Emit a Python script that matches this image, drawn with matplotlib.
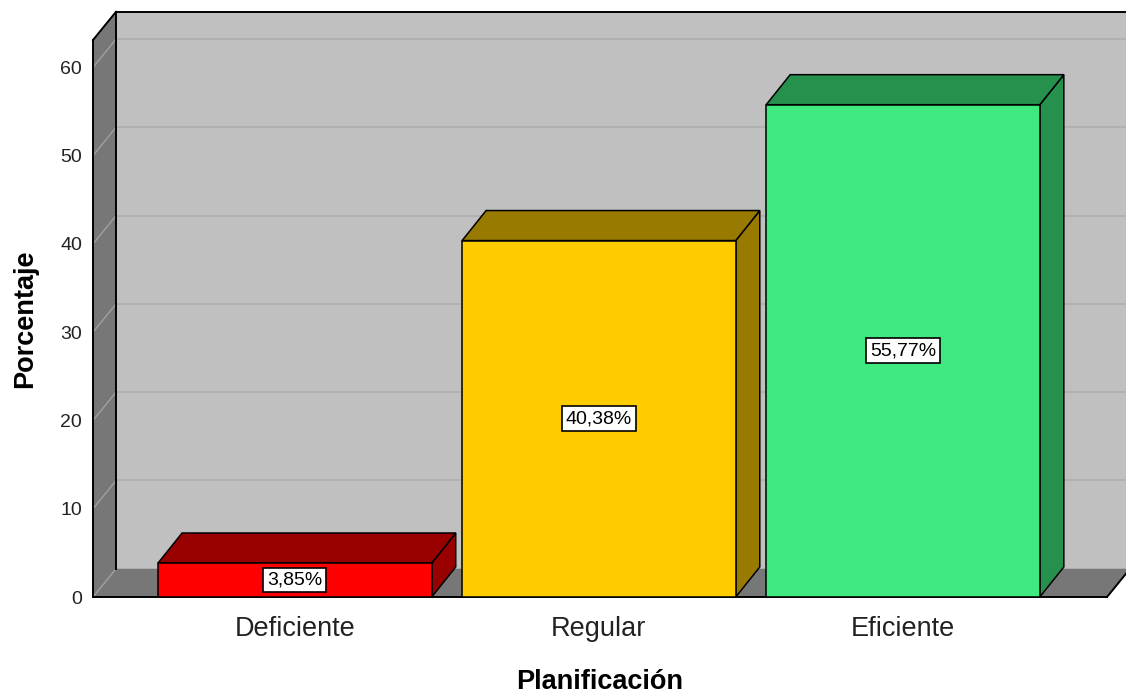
import matplotlib
matplotlib.use("Agg")
import matplotlib.pyplot as plt
from matplotlib.patches import Polygon

# datos
categorias = ["Deficiente", "Regular", "Eficiente"]
porcentajes = [3.85, 40.38, 55.77]
etiquetas = ["3,85%", "40,38%", "55,77%"]
ticks_y = [0, 10, 20, 30, 40, 50, 60]

colores_frente = ["#FF0000", "#FFCC00", "#40E880"]
colores_lado = ["#990000", "#997A00", "#26904D"]

plt.rcParams['font.family'] = ['Liberation Sans', 'DejaVu Sans']

# geometria del "3D"
X_MIN, X_MAX = -0.664, 2.671
Y_TOP = 63.1
WALL_DX, WALL_DY = 0.0757, 3.2
BAR_DX, BAR_DY = 0.079, 3.4
ANCHO = 0.9

fig = plt.figure(figsize=(11.26, 6.95), dpi=100)
ax = fig.add_axes([93 / 1126, 98 / 695, (1107 - 93) / 1126, (597 - 40) / 695])
ax.set_xlim(X_MIN, X_MAX)
ax.set_ylim(0, Y_TOP)
ax.set_facecolor("none")
for s in ax.spines.values():
    s.set_visible(False)


def poly(pts, fc, ec="none", lw=0.0, z=1):
    ax.add_patch(Polygon(pts, closed=True, facecolor=fc, edgecolor=ec,
                         linewidth=lw, clip_on=False, zorder=z, joinstyle="miter"))


# pared del fondo
poly([(X_MIN + WALL_DX, WALL_DY), (X_MAX + WALL_DX, WALL_DY),
      (X_MAX + WALL_DX, Y_TOP + WALL_DY), (X_MIN + WALL_DX, Y_TOP + WALL_DY)], "#C0C0C0", z=1)
# pared izquierda
poly([(X_MIN, 0), (X_MIN + WALL_DX, WALL_DY),
      (X_MIN + WALL_DX, Y_TOP + WALL_DY), (X_MIN, Y_TOP)], "#777777", z=1)
# piso
poly([(X_MIN, 0), (X_MAX, 0), (X_MAX + WALL_DX, WALL_DY), (X_MIN + WALL_DX, WALL_DY)],
     "#777777", z=1)

# lineas de cuadricula
for v in ticks_y:
    if v > 0:
        ax.plot([X_MIN + WALL_DX, X_MAX + WALL_DX], [v + WALL_DY, v + WALL_DY],
                color="#B0B0B0", lw=1.3, clip_on=False, zorder=2)
    ax.plot([X_MIN, X_MIN + WALL_DX], [v, v + WALL_DY],
            color="#A0A0A0", lw=1.0, clip_on=False, zorder=2)

# bordes negros
bordes = dict(color="black", lw=1.4, clip_on=False, zorder=3, solid_capstyle="projecting")
ax.plot([X_MIN, X_MIN], [0, Y_TOP], **bordes)
ax.plot([X_MIN, X_MIN + WALL_DX], [Y_TOP, Y_TOP + WALL_DY], **bordes)
ax.plot([X_MIN + WALL_DX, X_MIN + WALL_DX], [WALL_DY, Y_TOP + WALL_DY], **bordes)
ax.plot([X_MIN + WALL_DX, X_MAX + WALL_DX], [Y_TOP + WALL_DY, Y_TOP + WALL_DY], **bordes)
ax.plot([X_MIN, X_MAX], [0, 0], **bordes)
ax.plot([X_MAX, X_MAX + WALL_DX], [0, WALL_DY], **bordes)

# barras
for i, (v, cf, cl, et) in enumerate(zip(porcentajes, colores_frente, colores_lado, etiquetas)):
    x0, x1 = i - ANCHO / 2, i + ANCHO / 2
    poly([(x1, 0), (x1 + BAR_DX, BAR_DY), (x1 + BAR_DX, v + BAR_DY), (x1, v)],
         cl, "black", 1.1, z=4)
    poly([(x0, v), (x1, v), (x1 + BAR_DX, v + BAR_DY), (x0 + BAR_DX, v + BAR_DY)],
         cl, "black", 1.1, z=4)
    poly([(x0, 0), (x1, 0), (x1, v), (x0, v)], cf, "black", 1.1, z=5)
    ax.text(i, v / 2, et, ha="center", va="center", fontsize=14, color="black", zorder=6,
            bbox=dict(boxstyle="square,pad=0.2", facecolor="white", edgecolor="black", lw=1.2))

ax.set_xticks(range(len(categorias)))
ax.set_xticklabels(categorias, fontsize=19.5, color="#222222")
ax.set_yticks(ticks_y)
ax.set_yticklabels([str(t) for t in ticks_y], fontsize=14, color="#222222",
                   va="center_baseline")
ax.tick_params(axis="both", length=0)
ax.tick_params(axis="x", pad=14)
ax.tick_params(axis="y", pad=8)

ax.set_xlabel("Planificación", fontsize=19.5, fontweight="bold", labelpad=19)
ax.set_ylabel("Porcentaje", fontsize=19.5, fontweight="bold", labelpad=16)

fig.savefig("out.png", dpi=100)
